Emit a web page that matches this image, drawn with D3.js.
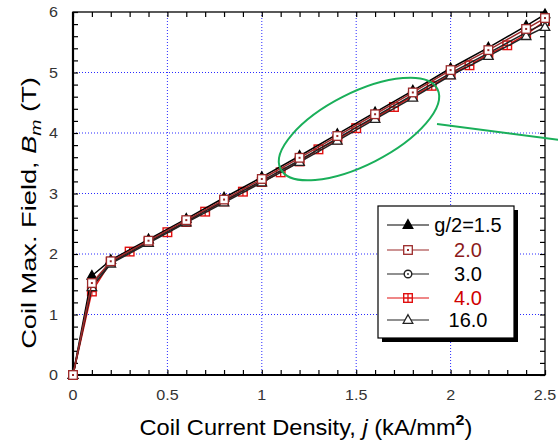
<!DOCTYPE html>
<html>
<head>
<meta charset="utf-8">
<script src="https://cdn.jsdelivr.net/npm/d3@7"></script>
<style>
  body { margin: 0; background: #fff; }
  svg { display: block; font-family: Arial, "Liberation Sans", sans-serif; }
</style>
</head>
<body>
<svg id="chart" width="558" height="443"></svg>
<script>
// current density j (kA/mm2) sample points
const jCoarse = [0, 0.1, 0.2, 0.4, 0.6, 0.8, 1.0, 1.2, 1.4, 1.6, 1.8, 2.0, 2.2, 2.4, 2.5];
const jFine = [0, 0.1, 0.2, 0.3, 0.4, 0.5, 0.6, 0.7, 0.8, 0.9, 1.0, 1.1, 1.2, 1.3, 1.4, 1.5,
  1.6, 1.7, 1.8, 1.9, 2.0, 2.1, 2.2, 2.3, 2.4, 2.5];

// Bm (T) for each g/2
const bm15 = [0, 1.64, 1.90, 2.24, 2.58, 2.93, 3.27, 3.62, 3.98, 4.34, 4.70, 5.07, 5.41, 5.77, 5.96];
const bm20 = [0, 1.52, 1.88, 2.22, 2.56, 2.90, 3.24, 3.59, 3.95, 4.31, 4.67, 5.04, 5.37, 5.72, 5.90];
const bm30 = [0, 1.50, 1.86, 2.20, 2.54, 2.88, 3.21, 3.55, 3.91, 4.27, 4.63, 4.99, 5.32, 5.66, 5.82];
const bm160 = [0, 1.45, 1.84, 2.18, 2.52, 2.85, 3.18, 3.52, 3.87, 4.23, 4.58, 4.95, 5.27, 5.60, 5.75];
const bm40 = [0, 1.38, 1.87, 2.04, 2.20, 2.36, 2.53, 2.70, 2.87, 3.03, 3.19, 3.35, 3.53, 3.73, 3.89,
  4.08, 4.25, 4.43, 4.61, 4.78, 4.97, 5.12, 5.30, 5.45, 5.63, 5.85];

const legendLabels = ["g/2=1.5", "2.0", "3.0", "4.0", "16.0"];
const xTicks = [0, 0.5, 1, 1.5, 2, 2.5];
const yTicks = [0, 1, 2, 3, 4, 5, 6];

const darkRed = "#9b2a2a", brightRed = "#e01010";

// drawing order: 4.0 underneath, 2.0 on top
const series = [
  { name: "4.0", j: jFine, b: bm40, color: brightRed, marker: "hatch", textColor: "#d00000" },
  { name: "g/2=1.5", j: jCoarse, b: bm15, color: "#000", marker: "triFill", textColor: "#000" },
  { name: "3.0", j: jCoarse, b: bm30, color: "#222", marker: "circle", textColor: "#000" },
  { name: "16.0", j: jCoarse, b: bm160, color: "#222", marker: "triOpen", textColor: "#000" },
  { name: "2.0", j: jCoarse, b: bm20, color: darkRed, marker: "square", textColor: "#8b1a1a" }
];

const svg = d3.select("#chart");
const pLeft = 73, pRight = 545, pTop = 12, pBottom = 375;

const x = d3.scaleLinear().domain([0, 2.5]).range([pLeft, pRight]);
const y = d3.scaleLinear().domain([0, 6]).range([pBottom, pTop]);

// grid
const grid = svg.append("g").attr("stroke", "#2a2aff").attr("stroke-width", 1)
  .attr("stroke-dasharray", "1,2");
grid.selectAll(".gx").data(xTicks.slice(1, -1)).enter().append("line")
  .attr("x1", d => x(d)).attr("x2", d => x(d)).attr("y1", pTop).attr("y2", pBottom);
grid.selectAll(".gy").data(yTicks.slice(1, -1)).enter().append("line")
  .attr("y1", d => y(d)).attr("y2", d => y(d)).attr("x1", pLeft).attr("x2", pRight);

// axes (ticks inward, all four sides)
const minorX = d3.range(0, 26).map(i => i / 10);
const minorY = d3.range(0, 31).map(i => i / 5);
const tickLen = 5;

svg.append("g").attr("transform", `translate(0,${pBottom})`)
  .call(d3.axisBottom(x).tickValues(minorX).tickSize(-tickLen).tickFormat(""))
  .call(g => g.select(".domain").remove());
svg.append("g").attr("transform", `translate(0,${pTop})`)
  .call(d3.axisTop(x).tickValues(minorX).tickSize(-tickLen).tickFormat(""))
  .call(g => g.select(".domain").remove());
svg.append("g").attr("transform", `translate(${pLeft},0)`)
  .call(d3.axisLeft(y).tickValues(minorY).tickSize(-tickLen).tickFormat(""))
  .call(g => g.select(".domain").remove());
svg.append("g").attr("transform", `translate(${pRight},0)`)
  .call(d3.axisRight(y).tickValues(minorY).tickSize(-tickLen).tickFormat(""))
  .call(g => g.select(".domain").remove());
svg.selectAll(".tick line").attr("stroke", "#000").attr("stroke-width", 1.2);

svg.append("rect").attr("x", pLeft).attr("y", pTop)
  .attr("width", pRight - pLeft).attr("height", pBottom - pTop)
  .attr("fill", "none").attr("stroke", "#000").attr("stroke-width", 1.3);
svg.append("line").attr("x1", pLeft).attr("x2", pLeft).attr("y1", pTop).attr("y2", pBottom + 1)
  .attr("stroke", "#000").attr("stroke-width", 2.2);
svg.append("line").attr("x1", pLeft - 1).attr("x2", pRight).attr("y1", pBottom).attr("y2", pBottom)
  .attr("stroke", "#000").attr("stroke-width", 2.2);

// tick labels (the original is a bit stretched sideways)
svg.append("g").selectAll("text").data(xTicks).enter().append("text")
  .attr("transform", d => `translate(${x(d)},${pBottom + 25}) scale(1.15,1)`)
  .attr("text-anchor", "middle").attr("font-size", 14).attr("fill", "#333")
  .text(d => d);
svg.append("g").selectAll("text").data(yTicks).enter().append("text")
  .attr("transform", d => `translate(${pLeft - 15},${y(d) + 5}) scale(1.15,1)`)
  .attr("text-anchor", "end").attr("font-size", 14).attr("fill", "#333")
  .text(d => d);

// axis titles
const xt = svg.append("text").attr("text-anchor", "middle").attr("font-size", 22).attr("fill", "#000");
xt.append("tspan").text("Coil Current Density, ");
xt.append("tspan").attr("font-style", "italic").text("j");
xt.append("tspan").text(" (kA/mm");
xt.append("tspan").attr("dy", -10).attr("font-size", 15).attr("font-weight", "bold").text("2");
xt.append("tspan").attr("dy", 10).text(")");
const xtLen = xt.node().getComputedTextLength();
xt.attr("transform", `translate(306,435) scale(${333 / xtLen},1)`);

const yt = svg.append("text").attr("text-anchor", "middle").attr("font-size", 21).attr("fill", "#000");
yt.append("tspan").text("Coil Max. Field, ");
yt.append("tspan").attr("font-style", "italic").text("B");
yt.append("tspan").attr("font-style", "italic").attr("dy", 5).attr("font-size", 15).text("m");
yt.append("tspan").attr("dy", -5).text(" (T)");
const ytLen = yt.node().getComputedTextLength();
yt.attr("transform", `translate(36,213) rotate(-90) scale(${272 / ytLen},1)`);

// markers
function drawMarker(g, type, color, cx, cy) {
  const s = 4.3;
  if (type === "triFill" || type === "triOpen") {
    g.append("path")
      .attr("d", `M${cx},${cy - s - 1}L${cx + s + 0.5},${cy + s - 1}L${cx - s - 0.5},${cy + s - 1}Z`)
      .attr("fill", type === "triFill" ? color : "#fff")
      .attr("stroke", color).attr("stroke-width", 1.3);
  } else if (type === "circle") {
    g.append("circle").attr("cx", cx).attr("cy", cy).attr("r", 3.8)
      .attr("fill", "#fff").attr("stroke", color).attr("stroke-width", 1.4);
    g.append("circle").attr("cx", cx).attr("cy", cy).attr("r", 0.9).attr("fill", color);
  } else if (type === "square") {
    g.append("rect").attr("x", cx - s).attr("y", cy - s).attr("width", 2 * s).attr("height", 2 * s)
      .attr("fill", "#fff").attr("stroke", color).attr("stroke-width", 1.3);
    g.append("rect").attr("x", cx - 1).attr("y", cy - 1).attr("width", 2).attr("height", 2)
      .attr("fill", color);
  } else if (type === "hatch") {
    g.append("rect").attr("x", cx - s).attr("y", cy - s).attr("width", 2 * s).attr("height", 2 * s)
      .attr("fill", "#fff").attr("stroke", color).attr("stroke-width", 1.4);
    g.append("path").attr("d", `M${cx},${cy - s}V${cy + s}M${cx - s},${cy}H${cx + s}`)
      .attr("stroke", color).attr("stroke-width", 1.3);
  }
}

const line = d3.line().x(d => x(d[0])).y(d => y(d[1]));

series.forEach(s => {
  const pts = s.j.map((j, i) => [j, s.b[i]]);
  const g = svg.append("g");
  g.append("path").datum(pts).attr("d", line)
    .attr("fill", "none").attr("stroke", s.color).attr("stroke-width", 1.5);
  pts.forEach(p => drawMarker(g, s.marker, s.color, x(p[0]), y(p[1])));
});

// green annotation ellipse and pointer line
svg.append("ellipse").attr("cx", 0).attr("cy", 0).attr("rx", 88).attr("ry", 36)
  .attr("transform", "translate(359,129) rotate(-27)")
  .attr("fill", "none").attr("stroke", "#1aaf5a").attr("stroke-width", 2);
svg.append("line").attr("x1", 437).attr("y1", 124).attr("x2", 560).attr("y2", 140)
  .attr("stroke", "#1aaf5a").attr("stroke-width", 2);

// legend
const lg = svg.append("g");
lg.append("rect").attr("x", 382).attr("y", 210).attr("width", 136).attr("height", 132).attr("fill", "#000");
lg.append("rect").attr("x", 378).attr("y", 206).attr("width", 136).attr("height", 132)
  .attr("fill", "#fff").attr("stroke", "#000").attr("stroke-width", 1.2);
const rowY = [225, 250, 274, 298, 320];
legendLabels.forEach((name, i) => {
  const s = series.find(d => d.name === name);
  const ly = rowY[i];
  lg.append("line").attr("x1", 387).attr("x2", 429).attr("y1", ly).attr("y2", ly)
    .attr("stroke", s.color).attr("stroke-width", 1.2);
  drawMarker(lg, s.marker, s.color, 408, ly);
  lg.append("text").attr("x", 468).attr("y", ly + 7).attr("text-anchor", "middle")
    .attr("font-size", 20).attr("fill", s.textColor).text(name);
});
</script>
</body>
</html>
